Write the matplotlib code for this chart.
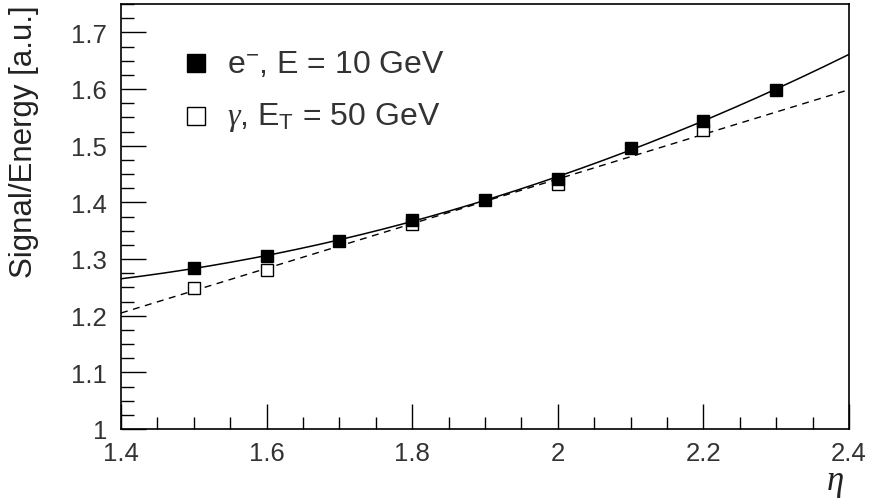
import numpy as np
import matplotlib
matplotlib.use("Agg")
import matplotlib.pyplot as plt
from matplotlib.ticker import MultipleLocator, FuncFormatter

# data
eta_e = [1.5, 1.6, 1.7, 1.8, 1.9, 2.0, 2.1, 2.2, 2.3]
sig_e = [1.284, 1.306, 1.332, 1.368, 1.404, 1.442, 1.496, 1.544, 1.599]
eta_g = [1.5, 1.6, 1.8, 2.0, 2.2]
sig_g = [1.249, 1.281, 1.362, 1.432, 1.527]

plt.rcParams['font.family'] = ['Liberation Sans', 'DejaVu Sans']
plt.rcParams['mathtext.fontset'] = 'custom'
plt.rcParams['mathtext.rm'] = 'Liberation Sans'
plt.rcParams['mathtext.it'] = 'Liberation Serif:italic'

fig = plt.figure(figsize=(8.7, 5.02), dpi=100)
ax = fig.add_axes([121/870, 1-430/502, (849-121)/870, (430-5)/502])

xx = np.linspace(1.4, 2.4, 200)
ce = np.polyfit(eta_e, sig_e, 2)
cg = np.polyfit(eta_g, sig_g, 1)
ax.plot(xx, np.polyval(ce, xx), color='black', lw=1.1, zorder=2)
ax.plot(xx, np.polyval(cg, xx), color='black', lw=1.0, ls=(0, (5, 4)), zorder=2)

ax.plot(eta_g, sig_g, ls='none', marker='s', ms=8.5, mfc='white', mec='black', mew=1.0, zorder=3)
ax.plot(eta_e, sig_e, ls='none', marker='s', ms=8.5, mfc='black', mec='black', zorder=4)

ax.set_xlim(1.4, 2.4)
ax.set_ylim(1.0, 1.75)
ax.xaxis.set_major_locator(MultipleLocator(0.2))
ax.xaxis.set_minor_locator(MultipleLocator(0.05))
ax.yaxis.set_major_locator(MultipleLocator(0.1))
ax.yaxis.set_minor_locator(MultipleLocator(0.025))
ax.tick_params(which='both', direction='in', top=False, right=False, colors='black')
ax.tick_params(which='major', length=18, width=1.0, labelsize=18.5)
ax.tick_params(axis='x', which='major', pad=9)
ax.tick_params(axis='y', which='major', pad=10)
ax.tick_params(which='minor', length=9, width=1.0)
ax.xaxis.set_major_formatter(FuncFormatter(lambda v, p: f"{v:g}"))
ax.yaxis.set_major_formatter(FuncFormatter(lambda v, p: f"{v:g}"))
for lab in ax.get_xticklabels() + ax.get_yticklabels():
    lab.set_color('#333333')
for s in ax.spines.values():
    s.set_linewidth(1.2)

fig.text(24/870, 1-5/502, "Signal/Energy [a.u.]", rotation=90, ha='center', va='top',
         fontsize=22.5, color='#222222')
fig.text(835/870, 1-484/502, r"$\it{\eta}$", ha='center', va='center', fontsize=25, color='#222222')

# legend
ax.plot([(196-121)/728], [(430-64)/425], transform=ax.transAxes, ls='none', marker='s', ms=12.5,
        mfc='black', mec='black', clip_on=False)
ax.plot([(196-121)/728], [(430-117)/425], transform=ax.transAxes, ls='none', marker='s', ms=12.5,
        mfc='white', mec='black', mew=1.0, clip_on=False)
fig.text(227/870, 1-65/502, r"e$^{-}$, E = 10 GeV", ha='left', va='center', fontsize=23, color='#333333')
fig.text(227/870, 1-117/502, r"$\gamma$, E$_{\mathrm{T}}$ = 50 GeV", ha='left', va='center', fontsize=23, color='#333333')

fig.savefig("out.png", dpi=100)
